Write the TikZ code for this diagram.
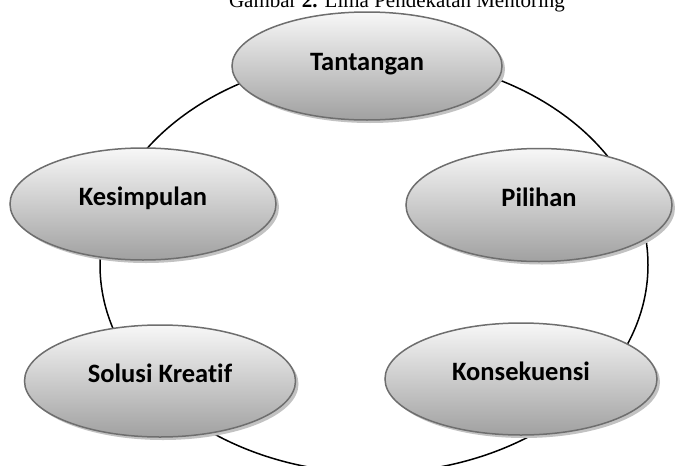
\documentclass[tikz,border=0pt]{standalone}
\usepackage{fontspec}
\setmainfont{Liberation Serif}
\newfontfamily\calibrifont[Ligatures=NoCommon]{Carlito}
\usetikzlibrary{shapes.geometric,shadows}
\begin{document}
\begin{tikzpicture}[x=1pt,y=-1pt,
  ring/.style={draw=black, line width=1.5pt},
  pill/.style={ellipse, draw=black!57, line width=1.5pt, inner sep=0pt,
    top color=black!3, middle color=black!15, bottom color=black!37,
    general shadow={fill=black!24, shadow xshift=3pt, shadow yshift=-3pt},
    font=\calibrifont\bfseries\fontsize{26.5}{30}\selectfont,
    text height=10pt, text depth=7pt},
  captxt/.style={anchor=base, inner sep=0pt, font=\fontsize{21}{24}\selectfont}]
\useasboundingbox (0,0) rectangle (675,466);
\clip (0,0) rectangle (675,466);
\fill[white] (0,0) rectangle (675,466);
% caption (cut off at the top, as in the reference)
\node[captxt] (cap) at (397,7) {Gambar \textbf{2.} Lima Pendekatan Mentoring};
% ring behind the nodes
\coordinate (ringc) at (374,265);
\draw[ring] (ringc) ellipse [x radius=274pt, y radius=208pt];
% nodes
\node[pill, minimum width=270pt, minimum height=108pt, text height=10pt, text depth=2pt] (tan) at (367,66) {Tantangan};
\node[pill, minimum width=266pt, minimum height=113pt] (pil) at (539,205) {Pilihan};
\node[pill, minimum width=272pt, minimum height=112pt] (kon) at (521,379) {Konsekuensi};
\node[pill, minimum width=271pt, minimum height=112pt] (sol) at (160,381) {Solusi Kreatif};
\node[pill, minimum width=266pt, minimum height=112pt] (kes) at (143,204) {Kesimpulan};
\end{tikzpicture}
\end{document}
